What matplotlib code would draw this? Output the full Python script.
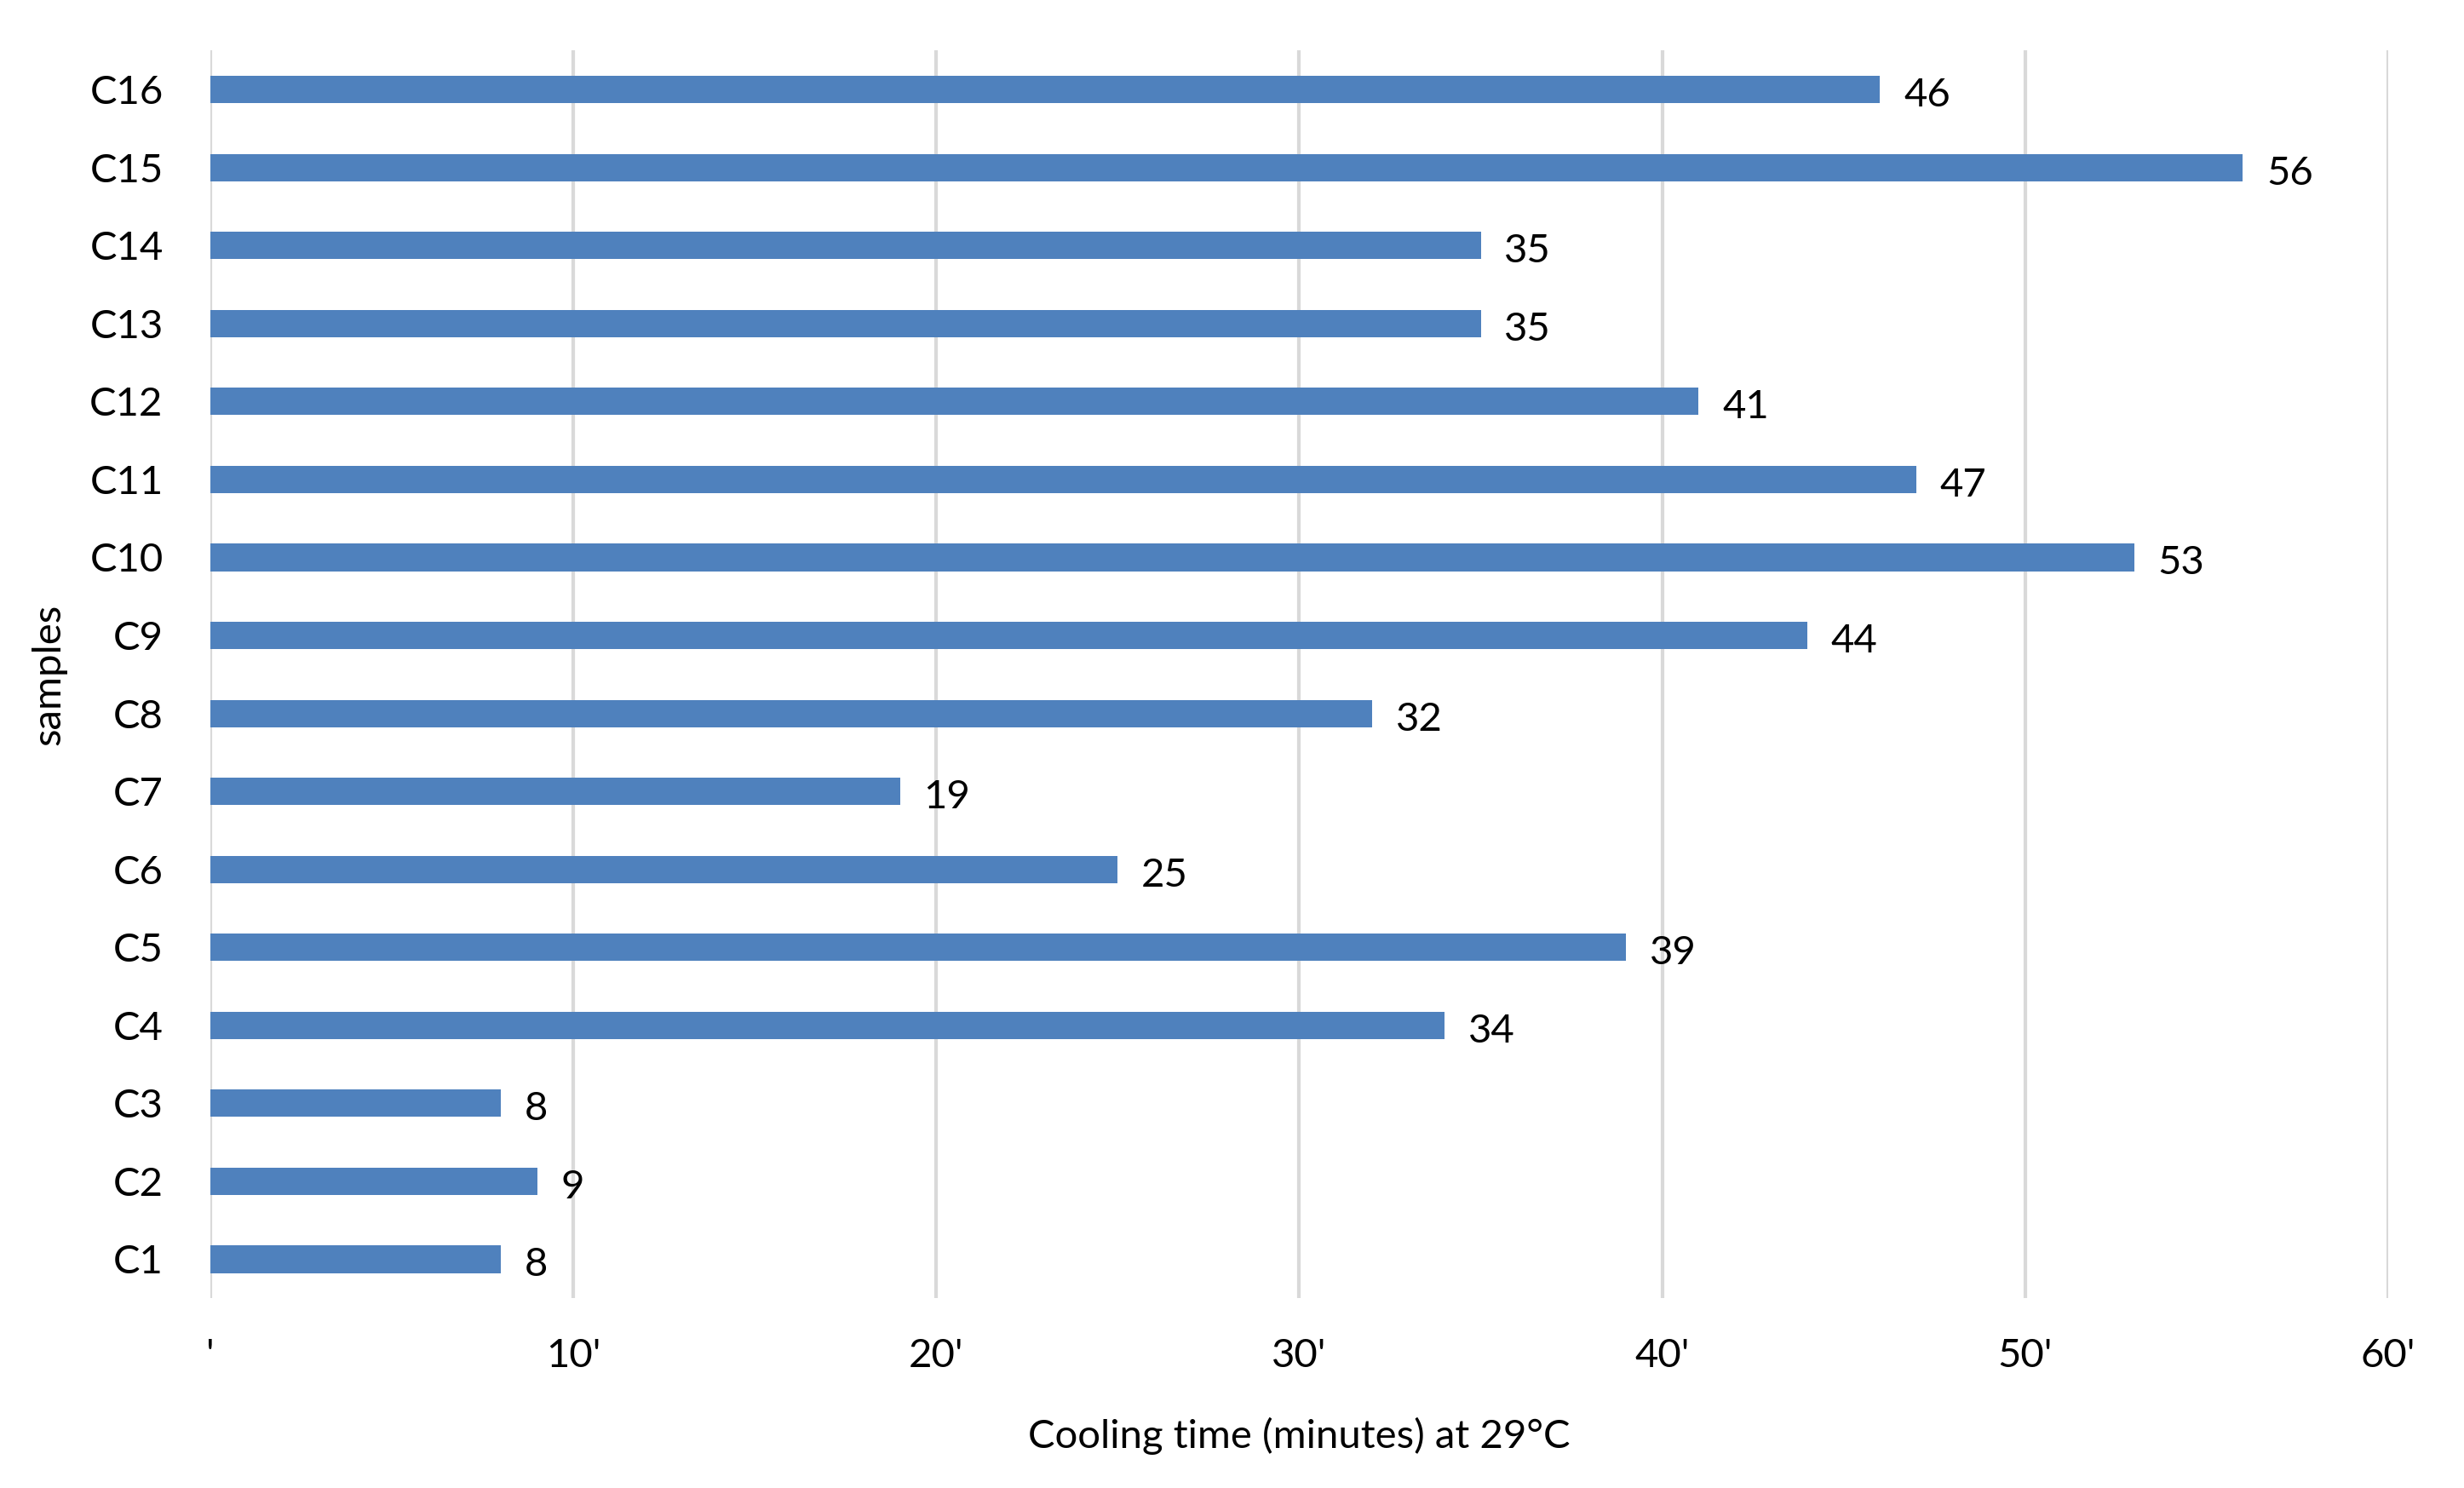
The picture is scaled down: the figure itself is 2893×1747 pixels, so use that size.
#!/usr/bin/env python3

# cooling time per sample, horizontal bars

import matplotlib
matplotlib.use('Agg')
import matplotlib.pyplot as plt

samples = ['C1', 'C2', 'C3', 'C4', 'C5', 'C6', 'C7', 'C8',
           'C9', 'C10', 'C11', 'C12', 'C13', 'C14', 'C15', 'C16']
cooling = [8, 9, 8, 34, 39, 25, 19, 32, 44, 53, 47, 41, 35, 35, 56, 46]
xticks = [0, 10, 20, 30, 40, 50, 60]
xticklabels = ["'" if t == 0 else f"{t}'" for t in xticks]

plt.rcParams['font.family'] = ['Lato', 'DejaVu Sans']

fig = plt.figure(figsize=(14.465, 8.735), dpi=200)
ax = fig.add_axes([0.0854, 0.1275, 0.9692 - 0.0854, 0.966 - 0.1275])

ypos = range(len(samples))
ax.barh(ypos, cooling, height=0.35, color='#4f81bd', zorder=3)
for y, v in zip(ypos, cooling):
    ax.annotate(str(v), (v, y), xytext=(10, -2.5), textcoords='offset points',
                ha='left', va='center', fontsize=17)

ax.set_xlim(0, 60)
ax.set_ylim(-0.5, len(samples) - 0.5)
ax.set_xticks(xticks)
ax.set_xticklabels(xticklabels)
ax.set_yticks(list(ypos))
ax.set_yticklabels(samples)
ax.tick_params(axis='both', length=0, labelsize=17)
ax.tick_params(axis='y', pad=20)
ax.tick_params(axis='x', pad=17)

ax.grid(axis='x', color='#d9d9d9', linewidth=1.5, zorder=0)
for s in ax.spines.values():
    s.set_visible(False)

ax.set_xlabel('Cooling time (minutes) at 29°C', fontsize=17)
ax.xaxis.set_label_coords(0.5, -0.095)
ax.set_ylabel('samples', fontsize=17)
ax.yaxis.set_label_coords(-0.066, 0.5)

fig.savefig('out.png', dpi=200)
